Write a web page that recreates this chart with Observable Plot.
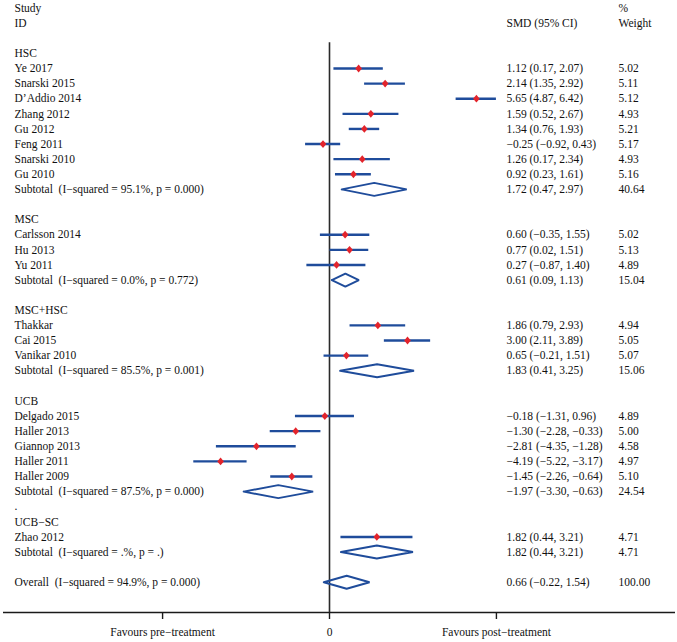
<!DOCTYPE html>
<html>
<head>
<meta charset="utf-8">
<script src="https://cdn.jsdelivr.net/npm/d3@7"></script>
<script src="https://cdn.jsdelivr.net/npm/@observablehq/plot@0.6"></script>
<style>
  html, body { margin: 0; padding: 0; background: #fff; }
  svg text { white-space: pre; }
</style>
</head>
<body>
<div id="chart"></div>
<script>
// ---- data (row order as in the figure) ----
const rowLabels = [
  "Study", "ID", "",
  "HSC", "Ye 2017", "Snarski 2015", "D\u2019Addio 2014", "Zhang 2012", "Gu 2012", "Feng 2011", "Snarski 2010", "Gu 2010",
  "Subtotal  (I\u2212squared = 95.1%, p = 0.000)", "",
  "MSC", "Carlsson 2014", "Hu 2013", "Yu 2011",
  "Subtotal  (I\u2212squared = 0.0%, p = 0.772)", "",
  "MSC+HSC", "Thakkar", "Cai 2015", "Vanikar 2010",
  "Subtotal  (I\u2212squared = 85.5%, p = 0.001)", "",
  "UCB", "Delgado 2015", "Haller 2013", "Giannop 2013", "Haller 2011", "Haller 2009",
  "Subtotal  (I\u2212squared = 87.5%, p = 0.000)", ".",
  "UCB\u2212SC", "Zhao 2012",
  "Subtotal  (I\u2212squared = .%, p = .)", "",
  "Overall  (I\u2212squared = 94.9%, p = 0.000)"
];
const rowKind = [
  "head", "head", "blank",
  "group", "study", "study", "study", "study", "study", "study", "study", "study",
  "sub", "blank",
  "group", "study", "study", "study",
  "sub", "blank",
  "group", "study", "study", "study",
  "sub", "blank",
  "group", "study", "study", "study", "study", "study",
  "sub", "group",
  "group", "study",
  "sub", "blank",
  "sub"
];
const smd = [
  null, null, null,
  null, 1.12, 2.14, 5.65, 1.59, 1.34, -0.25, 1.26, 0.92,
  1.72, null,
  null, 0.60, 0.77, 0.27,
  0.61, null,
  null, 1.86, 3.00, 0.65,
  1.83, null,
  null, -0.18, -1.30, -2.81, -4.19, -1.45,
  -1.97, null,
  null, 1.82,
  1.82, null,
  0.66
];
const ciLow = [
  null, null, null,
  null, 0.17, 1.35, 4.87, 0.52, 0.76, -0.92, 0.17, 0.23,
  0.47, null,
  null, -0.35, 0.02, -0.87,
  0.09, null,
  null, 0.79, 2.11, -0.21,
  0.41, null,
  null, -1.31, -2.28, -4.35, -5.22, -2.26,
  -3.30, null,
  null, 0.44,
  0.44, null,
  -0.22
];
const ciHigh = [
  null, null, null,
  null, 2.07, 2.92, 6.42, 2.67, 1.93, 0.43, 2.34, 1.61,
  2.97, null,
  null, 1.55, 1.51, 1.40,
  1.13, null,
  null, 2.93, 3.89, 1.51,
  3.25, null,
  null, 0.96, -0.33, -1.28, -3.17, -0.64,
  -0.63, null,
  null, 3.21,
  3.21, null,
  1.54
];
const weight = [
  null, null, null,
  null, 5.02, 5.11, 5.12, 4.93, 5.21, 5.17, 4.93, 5.16,
  40.64, null,
  null, 5.02, 5.13, 4.89,
  15.04, null,
  null, 4.94, 5.05, 5.07,
  15.06, null,
  null, 4.89, 5.00, 4.58, 4.97, 5.10,
  24.54, null,
  null, 4.71,
  4.71, null,
  100.00
];
const colHeaders = [
  {col: "label", row: 0, text: "Study"},
  {col: "label", row: 1, text: "ID"},
  {col: "smd", row: 1, text: "SMD (95% CI)"},
  {col: "weight", row: 0, text: "%"},
  {col: "weight", row: 1, text: "Weight"}
];
const tickValues = [-6.42, 0, 6.42];
const tickLabels = ["Favours pre\u2212treatment", "0", "Favours post\u2212treatment"];

// ---- derived tables ----
const minus = s => s.replace(/-/g, "\u2212");
const f2 = v => minus(v.toFixed(2));
const rows = rowLabels.map((label, i) => ({
  row: i, label, kind: rowKind[i],
  est: smd[i], lo: ciLow[i], hi: ciHigh[i], w: weight[i]
}));
const studies = rows.filter(d => d.kind === "study");
const pooled = rows.filter(d => d.kind === "sub");
const numbered = rows.filter(d => d.est != null);
const dh = 0.43; // diamond half-height in rows
const diamondPts = pooled.flatMap(d => [
  {id: d.row, x: d.lo, y: d.row},
  {id: d.row, x: d.est, y: d.row - dh},
  {id: d.row, x: d.hi, y: d.row},
  {id: d.row, x: d.est, y: d.row + dh},
  {id: d.row, x: d.lo, y: d.row}
]);

// a slightly rounder diamond than d3.symbolDiamond
const roundDiamond = {
  draw(ctx, size) {
    const s = Math.sqrt(size);
    const hw = 0.47 * s, hh = 0.55 * s;
    ctx.moveTo(0, -hh); ctx.lineTo(hw, 0); ctx.lineTo(0, hh); ctx.lineTo(-hw, 0); ctx.closePath();
  }
};

// column anchors (in effect-size units of the shared x scale)
const pxPerUnit = 26, zeroPx = 329, W = 677, H = 642;
const toX = px => (px - zeroPx) / pxPerUnit;
const colX = {label: toX(14), smd: toX(506), weight: toX(618)};
const lastRow = 40;

const blue = "#1f4c9b", red = "#e3242b";
const font = "'Liberation Serif', 'Times New Roman', Times, serif";
const fs = 11.5;

const chart = Plot.plot({
  width: W, height: H,
  marginTop: 0, marginBottom: H - 612, marginLeft: 0, marginRight: 0,
  style: {fontFamily: font, fontSize: fs + "px", color: "#111", background: "#fff"},
  x: {domain: [toX(0), toX(W)]},
  y: {domain: [-0.5, lastRow], reverse: true, axis: null},
  marks: [
    Plot.ruleY([lastRow], {x1: toX(3), x2: toX(675), stroke: "#1a1a1a", strokeWidth: 1.4}),
    Plot.ruleX([0], {y1: 2.3, y2: lastRow, stroke: "#2a2a2a", strokeWidth: 1.6}),
    Plot.axisX({
      ticks: tickValues, tickSize: 7, tickPadding: 8, label: null,
      tickFormat: d => tickLabels[tickValues.indexOf(d)],
      fontSize: fs, fontFamily: font, stroke: "#1a1a1a", strokeWidth: 1.4
    }),
    Plot.ruleY(studies, {y: "row", x1: "lo", x2: "hi", stroke: blue, strokeWidth: 2.4}),
    Plot.dot(studies, {x: "est", y: "row", symbol: roundDiamond, r: 4, fill: red, stroke: "none"}),
    Plot.line(diamondPts, {x: "x", y: "y", z: "id", stroke: blue, strokeWidth: 2, strokeLinejoin: "miter", curve: "linear"}),
    Plot.text(rows.filter(d => d.kind !== "head" && d.label), {
      x: () => colX.label, y: "row", text: "label", textAnchor: "start",
      fontSize: fs, fill: "#111"
    }),
    Plot.text(numbered, {
      x: () => colX.smd, y: "row", text: d => `${f2(d.est)} (${f2(d.lo)}, ${f2(d.hi)})`,
      textAnchor: "start", fontSize: fs, fill: "#111"
    }),
    Plot.text(numbered, {
      x: () => colX.weight, y: "row", text: d => d.w.toFixed(2),
      textAnchor: "start", fontSize: fs, fill: "#111"
    }),
    Plot.text(colHeaders, {
      x: d => colX[d.col], y: "row", text: "text", textAnchor: "start", fontSize: fs, fill: "#111"
    })
  ]
});
document.getElementById("chart").append(chart);
</script>
</body>
</html>
